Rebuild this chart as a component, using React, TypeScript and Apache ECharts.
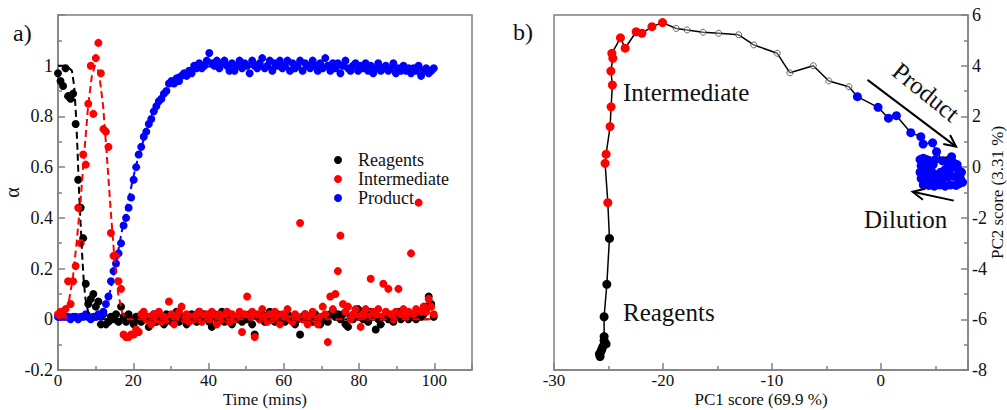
import React, { useEffect, useRef } from 'react';
import * as echarts from 'echarts';

const SERIF = 'Liberation Serif';
const GRAY = '#808080';
const TEXT = '#111111';

// ---------- panel a) : kinetic profiles (one spectrum every 0.67 min) ----------
const SAMPLE_STEP = 0.67;

const reagents = [
  0.97, 0.94, 0.92, 0.99, 0.88, 0.87, 0.89, 0.77, 0.55, 0.44,
  0.32, 0.14, 0.06, 0.08, 0.10, 0.05, 0.07, -0.02, 0.02, -0.02,
  -0.01, 0.01, 0.00, 0.02, -0.01, 0.05, 0.01, -0.01, 0.02, 0.00,
  -0.02, 0.01, 0.00, -0.01, 0.02, 0.00, -0.03, 0.01, 0.02, -0.01,
  0.00, 0.01, -0.02, 0.02, 0.00, -0.01, 0.01, 0.03, -0.01, 0.00,
  0.01, -0.02, 0.00, 0.02, 0.01, -0.01, 0.03, 0.00, 0.02, 0.01,
  -0.01, -0.03, 0.02, 0.00, 0.01, 0.03, -0.01, 0.00, 0.02, -0.02,
  0.01, 0.00, 0.02, -0.01, 0.01, 0.00, 0.02, -0.02, -0.06, 0.01,
  0.00, 0.02, -0.01, 0.01, 0.03, 0.00, -0.01, 0.02, 0.00, 0.01,
  -0.01, 0.02, 0.00, 0.01, -0.02, 0.00, -0.06, 0.01, 0.02, 0.00,
  0.01, -0.01, 0.02, 0.00, -0.02, 0.01, 0.00, -0.01, 0.02, 0.03,
  0.01, 0.02, 0.00, 0.02, -0.02, -0.03, 0.01, 0.00, 0.02, 0.04,
  0.01, 0.00, 0.02, -0.01, 0.03, 0.01, -0.04, 0.00, -0.02, 0.01,
  0.02, 0.00, 0.01, -0.01, 0.02, 0.03, 0.00, 0.01, 0.02, 0.00,
  0.01, 0.02, 0.00, 0.03, 0.01, 0.02, 0.05, 0.09, 0.06, 0.01,
];

const intermediate = [
  0.02, 0.03, 0.01, 0.04, 0.15, 0.06, 0.15, 0.21, 0.44, 0.30,
  0.65, 0.61, 0.85, 1.00, 0.81, 1.03, 1.09, 0.97, 0.75, 0.74,
  0.68, 0.34, 0.25, 0.25, 0.15, 0.12, -0.06, -0.07, -0.07, -0.06,
  -0.06, -0.04, -0.05, 0.02, 0.03, 0.00, 0.01, -0.02, 0.02, 0.00,
  0.03, -0.01, 0.01, 0.00, 0.07, 0.02, -0.02, 0.01, 0.03, 0.05,
  0.00, 0.02, -0.01, 0.01, 0.00, 0.02, 0.03, -0.01, 0.01, 0.02,
  0.00, 0.03, 0.01, -0.02, 0.02, 0.00, 0.01, 0.03, -0.01, 0.02,
  0.00, 0.01, 0.03, -0.05, 0.02, 0.09, 0.01, 0.03, -0.07, 0.02,
  0.00, 0.04, 0.01, -0.01, 0.02, 0.00, 0.03, 0.01, -0.02, 0.02,
  0.01, 0.04, 0.00, -0.01, 0.02, 0.01, 0.38, 0.00, 0.02, -0.02,
  0.01, 0.03, 0.00, -0.02, 0.01, 0.05, 0.02, -0.09, 0.09, 0.04,
  0.10, 0.19, 0.33, 0.06, 0.03, 0.05, 0.00, 0.02, 0.04, 0.01,
  -0.03, 0.02, 0.04, 0.01, 0.16, 0.03, 0.02, 0.04, 0.01, 0.14,
  0.03, 0.12, 0.02, 0.00, 0.03, 0.12, 0.02, 0.04, 0.01, 0.03,
  0.26, 0.02, 0.04, 0.46, 0.03, 0.05, 0.03, 0.08, 0.05, 0.02,
];

const product = [
  0.01, 0.01, 0.02, 0.01, 0.01, 0.00, 0.01, 0.01, 0.00, 0.01,
  0.01, 0.02, 0.01, 0.00, 0.01, 0.01, 0.02, 0.01, 0.03, 0.06,
  0.09, 0.15, 0.19, 0.22, 0.26, 0.30, 0.37, 0.40, 0.44, 0.48,
  0.55, 0.60, 0.65, 0.68, 0.72, 0.74, 0.77, 0.79, 0.82, 0.84,
  0.86, 0.87, 0.89, 0.90, 0.93, 0.94, 0.93, 0.95, 0.94, 0.96,
  0.97, 0.96, 0.98, 0.97, 1.00, 0.99, 1.01, 0.99, 1.00, 1.02,
  1.05, 1.01, 1.00, 1.02, 0.99, 1.01, 1.02, 1.00, 0.98, 1.01,
  0.98, 1.00, 1.02, 0.99, 1.01, 1.00, 0.97, 1.02, 1.00, 0.99,
  1.01, 1.03, 0.99, 1.00, 1.02, 0.98, 1.01, 1.00, 1.02, 0.99,
  1.00, 1.02, 0.98, 1.01, 0.99, 1.00, 1.02, 0.98, 1.01, 1.00,
  0.99, 1.02, 1.00, 0.98, 1.01, 0.99, 1.03, 1.00, 0.98, 1.01,
  0.99, 1.01, 0.97, 1.00, 1.02, 0.99, 0.98, 1.00, 1.01, 0.98,
  1.00, 0.99, 1.01, 0.98, 1.00, 0.97, 0.99, 1.01, 0.98, 0.99,
  1.00, 0.98, 0.99, 1.01, 0.97, 0.99, 0.98, 1.00, 0.98, 0.99,
  0.97, 0.99, 0.98, 1.00, 0.96, 0.98, 0.99, 0.97, 0.98, 0.99,
];

// fitted kinetic curves [time, alpha]
const reagentsFit: [number, number][] = [
  [0, 1.0], [1, 1.0], [2, 1.0], [3, 0.99], [3.7, 0.98], [4.3, 0.92], [4.8, 0.8],
  [5.2, 0.66], [5.6, 0.5], [6.0, 0.38], [6.4, 0.26], [6.8, 0.16], [7.3, 0.08],
  [8, 0.03], [9, 0.01], [10, 0], [100, 0],
];
const intermediateFit: [number, number][] = [
  [0, 0], [1, 0.01], [2, 0.03], [3, 0.08], [4, 0.17], [5, 0.31], [6, 0.47], [7, 0.66],
  [8, 0.84], [9, 0.96], [9.8, 1.0], [10.5, 0.99], [11, 0.96], [12, 0.84], [13, 0.64],
  [14, 0.43], [15, 0.24], [16, 0.1], [17, 0.03], [18, 0], [100, 0],
];
const productFit: [number, number][] = [
  [0, 0], [11, 0], [12, 0.02], [13, 0.06], [14, 0.12], [15, 0.19], [16, 0.27], [17, 0.35],
  [18, 0.42], [19, 0.49], [20, 0.56], [21, 0.62], [22, 0.67], [23, 0.72], [24, 0.77],
  [25, 0.81], [26, 0.84], [28, 0.9], [30, 0.94], [32, 0.965], [35, 0.985], [40, 0.997],
  [100, 0.99],
];

const xLabelsA = [0, 20, 40, 60, 80, 100];
const yLabelsA = [-0.2, 0, 0.2, 0.4, 0.6, 0.8, 1];

// ---------- panel b) : PCA score trajectory [PC1, PC2] ----------
const pcReagents: [number, number][] = [
  [-25.77, -7.47], [-25.83, -7.37], [-25.7, -7.28], [-25.61, -7.18], [-25.52, -7.08],
  [-25.22, -6.97], [-25.4, -6.84], [-25.4, -6.68], [-25.4, -5.9], [-25.15, -4.62],
  [-24.91, -2.81],
];
const pcIntermediate: [number, number][] = [
  [-25.06, -1.4], [-25.31, 0.15], [-25.22, 0.51], [-24.85, 1.6], [-24.76, 2.38],
  [-24.64, 3.24], [-24.78, 3.79], [-24.6, 4.29], [-24.69, 4.49], [-23.9, 5.1],
  [-23.47, 4.69], [-22.46, 5.34], [-21.93, 5.28], [-21.01, 5.54], [-20.04, 5.7],
];
const pcTransition: [number, number][] = [
  [-18.78, 5.47], [-17.79, 5.41], [-16.32, 5.32], [-14.88, 5.28], [-13.05, 5.22],
  [-11.66, 4.82], [-9.51, 4.49], [-8.35, 3.72], [-6.2, 4.0], [-4.77, 3.4], [-2.93, 3.17],
];
const pcProduct: [number, number][] = [
  [-2.15, 2.78], [-0.26, 2.36], [0.7, 1.93], [1.43, 2.03], [2.75, 1.36], [3.67, 1.2],
  [3.88, 0.91], [4.75, 0.96], [5.11, 0.61], [5.66, 0.25], [6.49, 0.41],
];
const pcDilution: [number, number][] = [
  [3.6, 0.3], [3.9, 0.35], [4.2, 0.3], [4.5, 0.25], [5.0, 0.3], [3.7, 0.05], [4.0, 0.1],
  [4.4, 0.05], [4.8, 0.1], [3.6, -0.2], [3.9, -0.15], [4.3, -0.25], [4.7, -0.2],
  [5.1, -0.3], [5.5, -0.2], [5.9, -0.1], [6.3, -0.05], [6.7, 0.0], [7.1, -0.1],
  [7.4, -0.2], [6.1, 0.15], [6.6, 0.2], [7.0, 0.1], [6.2, -0.25], [3.7, -0.45],
  [4.1, -0.5], [4.5, -0.45], [4.9, -0.55], [5.3, -0.5], [5.7, -0.45], [6.1, -0.4],
  [6.5, -0.35], [6.9, -0.4], [7.3, -0.45], [7.5, -0.6], [3.9, -0.7], [4.4, -0.72],
  [4.9, -0.75], [5.4, -0.7], [5.9, -0.75], [6.4, -0.7], [6.9, -0.72], [7.2, -0.65],
];
// annotation arrows [x1, y1, x2, y2] in score units
const pcArrows = [
  [-1.22, 3.44, 6.9, 0.81],
  [6.69, -1.32, 2.92, -0.97],
];
const xLabelsB = [-30, -20, -10, 0];

const near = (list: number[], v: number) => list.some((x) => Math.abs(x - v) < 1e-6);

function axisBase(labels: number[] | null, fontSize = 18, margin = 5) {
  return {
    axisLine: { show: true, onZero: false, lineStyle: { color: GRAY, width: 1.5 } },
    axisTick: { show: true, inside: true, length: 7, lineStyle: { color: GRAY, width: 1.5 } },
    minorTick: { show: true, splitNumber: 2, length: 4, lineStyle: { color: GRAY, width: 1.5 } },
    splitLine: { show: false },
    minorSplitLine: { show: false },
    axisLabel: {
      color: TEXT,
      fontFamily: SERIF,
      fontSize,
      lineHeight: fontSize,
      margin,
      formatter: (v: number) => (labels == null || near(labels, v) ? String(v) : ''),
    },
    nameMoveOverlap: false,
    nameTextStyle: { color: TEXT, fontFamily: SERIF, fontSize: 17, lineHeight: 17 },
  };
}

export default function App() {
  const ref = useRef<HTMLDivElement>(null);

  useEffect(() => {
    if (!ref.current) return;
    const chart = echarts.init(ref.current, null, { renderer: 'svg' });

    const toTime = (vals: number[]) =>
      vals.map((v, i) => [Math.round(i * SAMPLE_STEP * 100) / 100, v]);

    const scatterA = (name: string, vals: number[], color: string) => ({
      name,
      type: 'scatter',
      xAxisIndex: 0,
      yAxisIndex: 0,
      data: toTime(vals),
      symbol: 'circle',
      symbolSize: 8,
      itemStyle: { color, opacity: 1 },
      silent: true,
    });
    const fitA = (name: string, pts: [number, number][], color: string) => ({
      name,
      type: 'line',
      xAxisIndex: 0,
      yAxisIndex: 0,
      data: pts,
      symbol: 'none',
      showSymbol: false,
      lineStyle: { color, width: 2, type: [7, 4] },
      silent: true,
    });
    const scatterB = (name: string, pts: [number, number][], color: string, size = 9) => ({
      name,
      type: 'scatter',
      xAxisIndex: 1,
      yAxisIndex: 1,
      data: pts,
      symbol: 'circle',
      symbolSize: size,
      itemStyle: { color, opacity: 1 },
      silent: true,
      z: 3,
    });

    const pathB = [...pcReagents, ...pcIntermediate, ...pcTransition, ...pcProduct, pcDilution[0]];

    const annText = (text: string, x: number, y: number, extra: any = {}) => ({
      type: 'text',
      x,
      y,
      silent: true,
      rotation: extra.rotation || 0,
      style: {
        text,
        fill: TEXT,
        fontFamily: SERIF,
        fontSize: extra.fontSize || 25,
        textAlign: extra.align || 'left',
        textVerticalAlign: 'middle',
      },
    });

    chart.setOption({
      animation: false,
      backgroundColor: '#ffffff',
      textStyle: { fontFamily: SERIF },
      grid: [
        { left: 58, top: 15, width: 414, height: 355, show: true, borderColor: GRAY, borderWidth: 1.5, containLabel: false, outerBoundsMode: 'none' },
        { left: 554, top: 15, width: 414, height: 355, show: true, borderColor: GRAY, borderWidth: 1.5, containLabel: false, outerBoundsMode: 'none' },
      ],
      xAxis: [
        {
          ...axisBase(xLabelsA, 17, 2),
          type: 'value',
          gridIndex: 0,
          min: 0,
          max: 110,
          interval: 20,
          name: 'Time (mins)',
          nameLocation: 'middle',
          nameGap: 21,
        },
        {
          ...axisBase(xLabelsB, 17, 2),
          type: 'value',
          gridIndex: 1,
          min: -30,
          max: 8,
          interval: 10,
          name: 'PC1 score (69.9 %)',
          nameLocation: 'middle',
          nameGap: 21,
        },
      ],
      yAxis: [
        {
          ...axisBase(yLabelsA, 18, 5),
          type: 'value',
          gridIndex: 0,
          min: -0.2,
          max: 1.2,
          interval: 0.2,
          name: 'α',
          nameLocation: 'middle',
          nameRotate: 90,
          nameGap: 36,
          nameTextStyle: { color: TEXT, fontFamily: SERIF, fontSize: 20 },
        },
        {
          ...axisBase(null, 18, 4),
          type: 'value',
          gridIndex: 1,
          position: 'right',
          min: -8,
          max: 6,
          interval: 2,
          name: 'PC2 score (3.31 %)',
          nameLocation: 'middle',
          nameRotate: 90,
          nameGap: 21,
          nameTextStyle: { color: TEXT, fontFamily: SERIF, fontSize: 17 },
        },
      ],
      legend: {
        data: ['Reagents', 'Intermediate', 'Product'],
        orient: 'vertical',
        left: 334,
        top: 151,
        icon: 'circle',
        itemWidth: 8,
        itemHeight: 8,
        itemGap: 1,
        padding: 0,
        selectedMode: false,
        textStyle: { color: TEXT, fontFamily: SERIF, fontSize: 18, lineHeight: 18, padding: [0, 0, 0, 11] },
      },
      series: [
        scatterA('Reagents', reagents, '#000000'),
        fitA('Reagents fit', reagentsFit, '#000000'),
        scatterA('Product', product, '#0000ff'),
        fitA('Product fit', productFit, '#0000ff'),
        scatterA('Intermediate', intermediate, '#ff0000'),
        fitA('Intermediate fit', intermediateFit, '#ff0000'),
        {
          name: 'score path',
          type: 'line',
          xAxisIndex: 1,
          yAxisIndex: 1,
          data: pathB,
          symbol: 'none',
          showSymbol: false,
          lineStyle: { color: '#000000', width: 1.5 },
          silent: true,
          z: 2,
        },
        scatterB('score reagents', pcReagents, '#000000'),
        scatterB('score intermediate', pcIntermediate, '#ff0000'),
        {
          ...scatterB('score transition', pcTransition, 'rgba(255,255,255,0.4)', 6),
          itemStyle: { color: 'rgba(255,255,255,0.4)', borderColor: '#444444', borderWidth: 1 },
        },
        scatterB('score product', pcProduct, '#0000ff'),
        scatterB('score dilution', pcDilution, '#0000ff'),
        {
          name: 'arrows',
          type: 'custom',
          xAxisIndex: 1,
          yAxisIndex: 1,
          data: pcArrows,
          encode: { x: [0, 2], y: [1, 3] },
          silent: true,
          z: 5,
          renderItem: (_params: any, api: any) => {
            const p1 = api.coord([api.value(0), api.value(1)]);
            const p2 = api.coord([api.value(2), api.value(3)]);
            const ang = Math.atan2(p2[1] - p1[1], p2[0] - p1[0]);
            const h = 13;
            const a = Math.PI / 7;
            const b1 = [p2[0] - h * Math.cos(ang - a), p2[1] - h * Math.sin(ang - a)];
            const b2 = [p2[0] - h * Math.cos(ang + a), p2[1] - h * Math.sin(ang + a)];
            return {
              type: 'group',
              children: [
                { type: 'line', shape: { x1: p1[0], y1: p1[1], x2: p2[0], y2: p2[1] }, style: { stroke: '#000', lineWidth: 2 } },
                { type: 'polyline', shape: { points: [b1, p2, b2] }, style: { stroke: '#000', lineWidth: 2, fill: null } },
              ],
            };
          },
        },
      ],
      graphic: [
        annText('a)', 13, 33, { fontSize: 24 }),
        annText('b)', 513, 32, { fontSize: 24 }),
        annText('Intermediate', 623, 92),
        annText('Reagents', 623, 312),
        annText('Dilution', 864, 219),
        annText('Product', 926, 92, { align: 'center', rotation: (-39 * Math.PI) / 180 }),
      ],
    });

    return () => chart.dispose();
  }, []);

  return (
    <div
      ref={ref}
      style={{ position: 'fixed', left: 0, top: 0, width: 1007, height: 410, background: '#fff' }}
    />
  );
}
